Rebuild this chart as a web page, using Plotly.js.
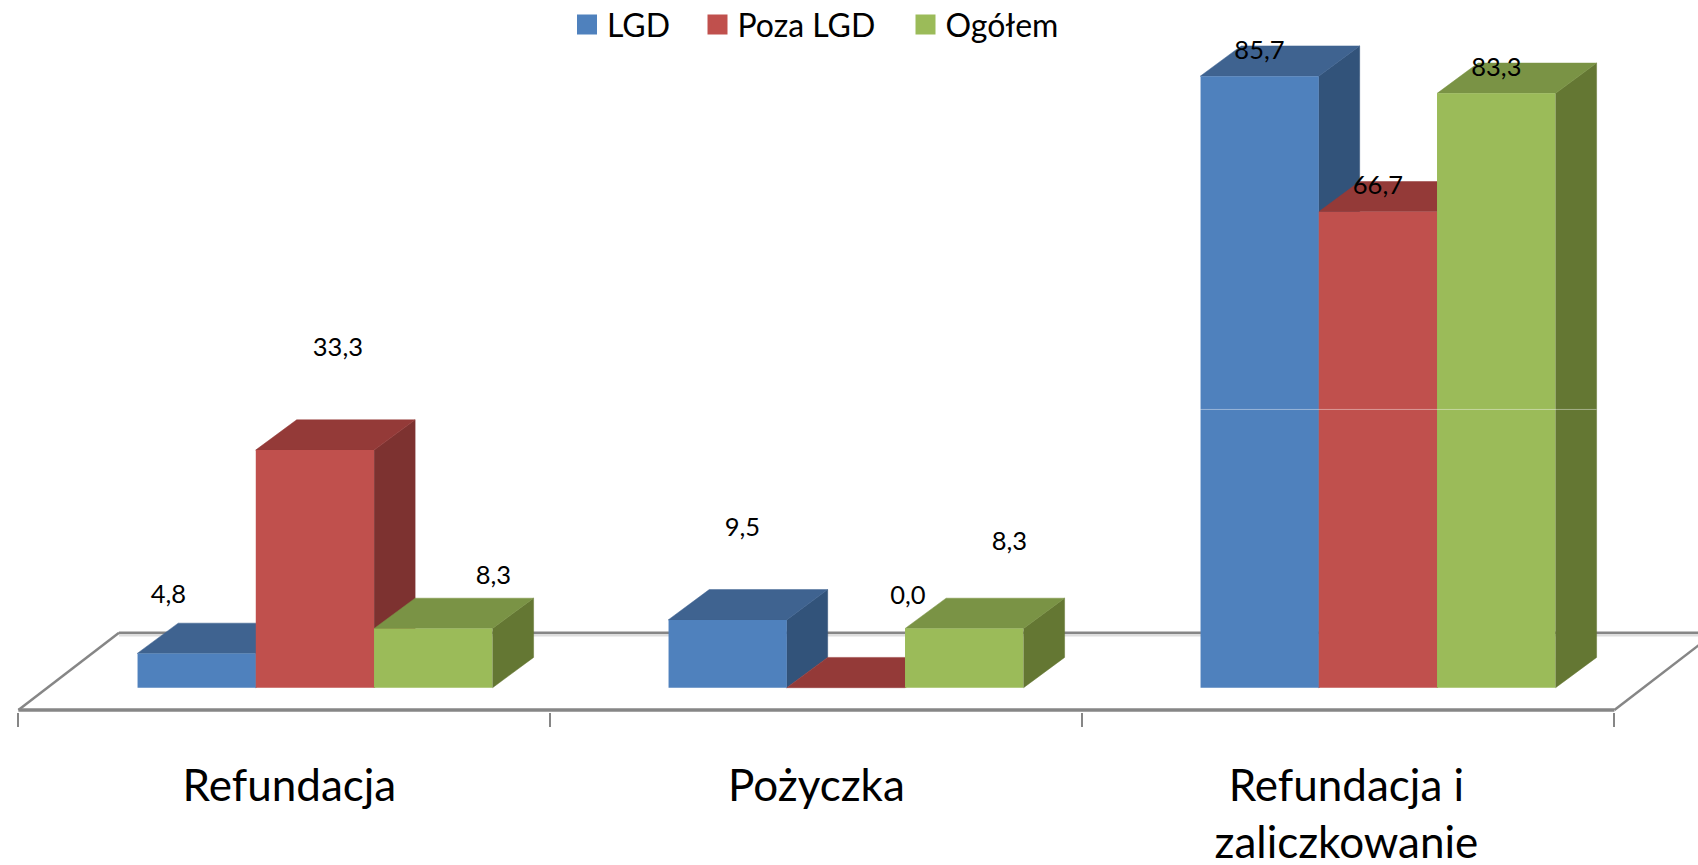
<!DOCTYPE html>
<html>
<head>
<meta charset="utf-8">
<script src="https://cdn.plot.ly/plotly-3.0.1.min.js"></script>
<style>html,body{margin:0;padding:0;background:#fff;overflow:hidden}</style>
</head>
<body>
<div id="chart" style="position:absolute;left:0;top:-3px;width:1698px;height:868px"></div>
<script>
// ---- data ----
const categories = ["Refundacja", "Pożyczka", "Refundacja i<br>zaliczkowanie"];
const seriesNames = ["LGD", "Poza LGD", "Ogółem"];
const lgd = [4.8, 9.5, 85.7];
const pozaLgd = [33.3, 0.0, 66.7];
const ogolem = [8.3, 8.3, 83.3];
// ---- styles ----
const frontColors = ["#4F81BD", "#C0504D", "#9BBB59"];
const topColors = ["#3F6390", "#943A38", "#7A9345"];
const sideColors = ["#32537A", "#7D3230", "#647733"];
const FONT = "Lato, 'Open Sans', sans-serif";
// label offsets from the front-top-centre of each bar, in pixels
const labelShift = [[-28, 23, 60], [15, 62, 45], [0, 0, 0]];
const labelLift = [[57, 100, 51], [90, 90, 85], [24, 24, 24]];
const categoryNudge = [5, 0, -2];

// ---- scales: pixels per unit, used only to express the 3D look ----
const W = 1698, H = 868, TOP = 3, BOTTOM = 153;
const PX_X = 532, PX_Y = 7.135, X0PX = 18.4, FLOOR_DROP = 22.3, PLOT_DROP = 24.3;
const xRange = [-X0PX / PX_X, (W - X0PX) / PX_X];
const yRange = [-PLOT_DROP / PX_Y, (H - TOP - BOTTOM - PLOT_DROP) / PX_Y];
const bargap = 0.332;
const barW = (1 - bargap) / 3;
const groupShiftPx = [30.5, 29.5, 29.5];
const depthX = 41 / PX_X, depthY = 30.3 / PX_Y;
const floorDX = 100.6 / PX_X, floorDY = 77.3 / PX_Y;
const floorY = -FLOOR_DROP / PX_Y;
const n = categories.length;
const centers = categories.map((_, i) => i + 0.5);
const groupX = centers.map((c, i) => c + groupShiftPx[i] / PX_X);
const allSeries = [lgd, pozaLgd, ogolem];
const fmt = v => v.toFixed(1).replace(".", ",");

const traces = [];
const GRAY = "#868686";
const lineTrace = (x, y, color, width) => ({
  type: "scatter", mode: "lines", x, y, xaxis: "x", yaxis: "y", cliponaxis: false,
  line: { color, width }, showlegend: false, hoverinfo: "skip"
});
// floor of the 3D box
traces.push(lineTrace([floorDX, n + floorDX], [floorY + floorDY - 0.33, floorY + floorDY - 0.33], "#DDDDDD", 3));
traces.push(lineTrace([floorDX, n + floorDX], [floorY + floorDY, floorY + floorDY], GRAY, 2.5));
traces.push(lineTrace([0, floorDX], [floorY, floorY + floorDY], GRAY, 2.5));
traces.push(lineTrace([n, n + floorDX], [floorY, floorY + floorDY], GRAY, 2.5));
traces.push(lineTrace([0, n], [floorY, floorY], GRAY, 3.5));

// sides and tops of the bars, in the base layer, computed from the values
const poly = (x, y, color) => ({
  type: "scatter", mode: "lines", fill: "toself", fillcolor: color, x, y, xaxis: "x", yaxis: "y",
  line: { color, width: 0.5 }, showlegend: false, hoverinfo: "skip"
});
groupX.forEach((g, k) => {
  allSeries.forEach((vals, s) => {
    const v = vals[k];
    const x0 = g + (s - 1.5) * barW, x1 = x0 + barW;
    traces.push(poly([x1, x1 + depthX, x1 + depthX, x1, x1], [0, depthY, v + depthY, v, 0], sideColors[s]));
    traces.push(poly([x0, x1, x1 + depthX, x0 + depthX, x0], [v, v, v + depthY, v + depthY, v], topColors[s]));
  });
});

// front faces as real bars on the overlay axes
allSeries.forEach((vals, s) => {
  traces.push({
    type: "bar", name: seriesNames[s], x: groupX, y: vals, xaxis: "x2", yaxis: "y2",
    marker: { color: frontColors[s], line: { width: 0 } }, showlegend: false,
    hovertemplate: "%{y:.1f}<extra>" + seriesNames[s] + "</extra>"
  });
});

// faint wall gridline showing through the tallest group
const gridValue = 39;
traces.push({
  type: "scatter", mode: "lines", xaxis: "x2", yaxis: "y2", showlegend: false, hoverinfo: "skip",
  x: [groupX[2] - 1.5 * barW, groupX[2] + 1.5 * barW + depthX], y: [gridValue, gridValue],
  line: { color: "rgba(255,255,255,0.42)", width: 1 }
});

// data labels
allSeries.forEach((vals, s) => {
  traces.push({
    type: "scatter", mode: "text", xaxis: "x2", yaxis: "y2", showlegend: false, hoverinfo: "skip",
    x: groupX.map((g, k) => g + (s - 1) * barW + labelShift[k][s] / PX_X),
    y: vals.map((v, k) => v + labelLift[k][s] / PX_Y),
    text: vals.map(fmt), textposition: "middle center",
    textfont: { family: FONT, size: 25.5, color: "#000" }
  });
});

// legend entries, one legend each so the gaps match
const legendNames = ["legend", "legend2", "legend3"];
seriesNames.forEach((name, s) => {
  traces.push({
    type: "scatter", mode: "markers", name, x: [null], y: [null], xaxis: "x2", yaxis: "y2",
    legend: legendNames[s], showlegend: true, hoverinfo: "skip",
    marker: { symbol: "square", size: 16, color: frontColors[s], line: { color: frontColors[s], width: 4 } }
  });
});
const legendBase = {
  orientation: "h", xanchor: "left", yanchor: "top", y: 1.004, bgcolor: "rgba(0,0,0,0)", borderwidth: 0,
  itemsizing: "trace", itemclick: false, itemdoubleclick: false,
  font: { family: FONT, size: 32, color: "#000" }
};
const legendX = [567, 697.5, 905.5];

const layout = {
  width: W, height: H, autosize: false,
  margin: { l: 0, r: 0, t: TOP, b: BOTTOM, autoexpand: false },
  paper_bgcolor: "#fff", plot_bgcolor: "rgba(0,0,0,0)",
  barmode: "group", bargap, bargroupgap: 0,
  font: { family: FONT, color: "#000" },
  xaxis: {
    range: xRange, showgrid: false, zeroline: false, showline: false,
    tickmode: "array", tickvals: [0, 1, 2, 3], ticktext: ["", "", "", ""],
    ticks: "outside", ticklen: 14, tickwidth: 1.5, tickcolor: GRAY
  },
  yaxis: { range: yRange, visible: false, showgrid: false, zeroline: false },
  xaxis2: {
    overlaying: "x", anchor: "y2", side: "bottom", range: xRange, showgrid: false, zeroline: false, showline: false,
    tickmode: "array", tickvals: centers.map((c, i) => c + categoryNudge[i] / PX_X), ticktext: categories,
    ticks: "outside", ticklen: 35, tickwidth: 0, tickcolor: "rgba(0,0,0,0)",
    tickfont: { family: FONT, size: 44, color: "#000" }
  },
  yaxis2: { overlaying: "y", range: yRange, visible: false, showgrid: false, zeroline: false },
  legend: Object.assign({}, legendBase, { x: legendX[0] / W }),
  legend2: Object.assign({}, legendBase, { x: legendX[1] / W }),
  legend3: Object.assign({}, legendBase, { x: legendX[2] / W })
};
Plotly.newPlot("chart", traces, layout, { displayModeBar: false });
</script>
</body>
</html>
